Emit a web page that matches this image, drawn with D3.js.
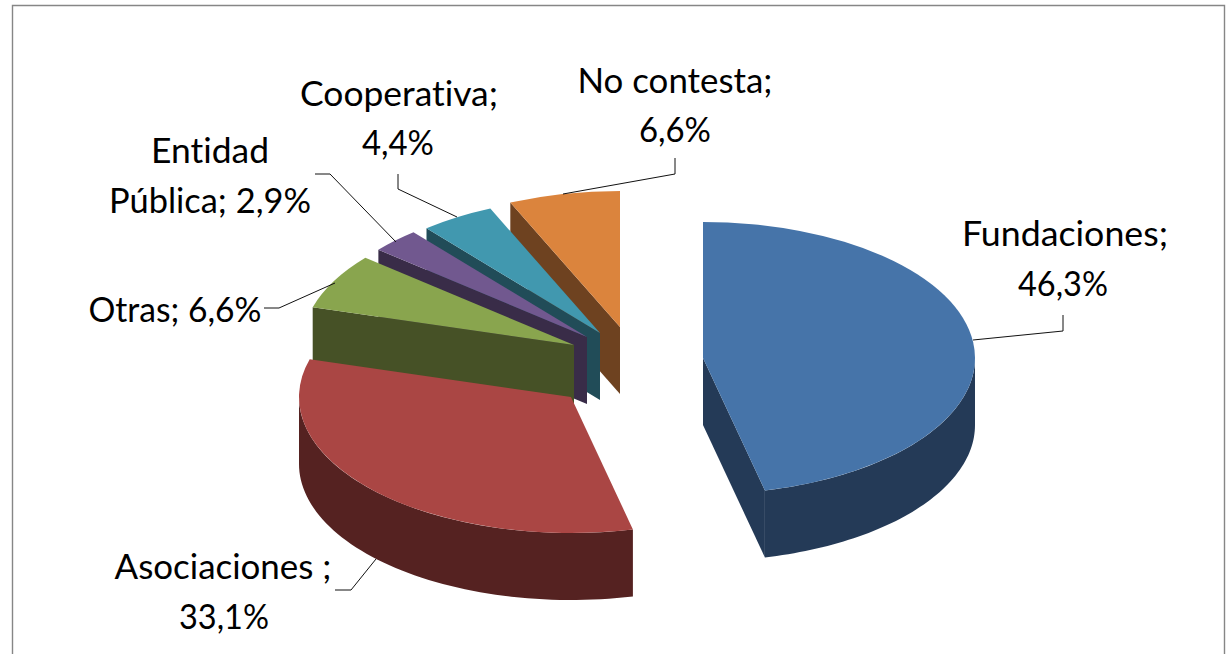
<!DOCTYPE html>
<html><head><meta charset="utf-8">
<script src="https://cdn.jsdelivr.net/npm/d3@7/dist/d3.min.js"></script>
<style>html,body{margin:0;padding:0;background:#fff;overflow:hidden}svg{display:block}
text{font-family:Lato,"Open Sans",sans-serif;font-size:34px;fill:#000;text-anchor:middle;font-variant-ligatures:none;font-feature-settings:"liga" 0}</style>
</head><body><svg id="c" width="1227" height="654"></svg>
<script>
// data
const categories = ["Fundaciones","Asociaciones","Otras","Entidad Pública","Cooperativa","No contesta"];
const values = [46.3,33.1,6.6,2.9,4.4,6.6];
const labelLines = [["Fundaciones;","46,3%"],["Asociaciones ;","33,1%"],["Otras; 6,6%"],["Entidad","Pública; 2,9%"],["Cooperativa;","4,4%"],["No contesta;","6,6%"]];
const topColors = ["#4674A9","#AA4644","#89A54E","#71588F","#4198AF","#DB843D"];
const sideColors = ["#243A57","#552221","#465126","#392C48","#214C58","#6E4220"];

// layout
const W=1227,H=654,center=[627,363],radius=272,tilt=0.5,depth=67;
const pulls=[[76,-5],[-56,34],[-53,-18],[-40,-26],[-27,-30],[-7,-36]];
const labelPos=[[[1065,246],[1063,296]],[[223,579],[224,629]],[[175,322]],[[210,163],[210,213]],[[399,106],[398,155]],[[675,93],[675,142]]];
const labelWidths=[[206,90],[217,90],[173],[118,202],[198,72],[195,72]];
const leaderLines=[[[973,340],[1063,331],[1063,315]],[[376,559],[351,590],[335,590]],[[335,283],[279,308],[264,308]],[[396,242],[330,174],[315,174]],[[457,217],[398,189],[398,174]],[[563,194],[675,174],[675,158]]];
const drawOrder=[5,4,3,2,1,0];

const svg=d3.select("#c");
svg.append("rect").attr("width",W).attr("height",H).attr("fill","#fff");
svg.append("path").attr("d",`M12.5,${H+2}V5.5H1224.5V${H+2}`).attr("fill","none").attr("stroke","#868686").attr("stroke-width",1.4);

const arcs=d3.pie().sort(null).startAngle(0).endAngle(2*Math.PI)(values);
const arcGen=d3.arc().innerRadius(0).outerRadius(radius);
const xOf=a=>radius*Math.sin(a), yOf=a=>-radius*tilt*Math.cos(a);
const line=d3.line();

drawOrder.forEach(i=>{
  const s=arcs[i],ax=center[0]+pulls[i][0],ay=center[1]+pulls[i][1];
  const g=svg.append("g").attr("transform",`translate(${ax},${ay})`);
  const a0=s.startAngle,a1=s.endAngle;
  const cut=a=>line([[0,0],[xOf(a),yOf(a)],[xOf(a),yOf(a)+depth],[0,depth]])+"Z";
  if(a0>Math.PI) g.append("path").attr("d",cut(a0)).attr("fill",sideColors[i]);
  if(a1<Math.PI) g.append("path").attr("d",cut(a1)).attr("fill",sideColors[i]);
  const lo=Math.max(a0,Math.PI/2),hi=Math.min(a1,3*Math.PI/2);
  if(lo<hi){
    const ang=d3.range(0,61).map(k=>lo+(hi-lo)*k/60);
    const pts=ang.map(a=>[xOf(a),yOf(a)]).concat(ang.slice().reverse().map(a=>[xOf(a),yOf(a)+depth]));
    g.append("path").attr("d",line(pts)+"Z").attr("fill",sideColors[i]);
  }
  g.append("path").attr("d",arcGen(s)).attr("transform",`scale(1,${tilt})`).attr("fill",topColors[i]);
});

leaderLines.forEach(l=>svg.append("path").attr("d",line(l)).attr("fill","none").attr("stroke","#111").attr("stroke-width",1));

labelLines.forEach((lines,i)=>lines.forEach((t,j)=>{
  svg.append("text").attr("x",labelPos[i][j][0]).attr("y",labelPos[i][j][1])
    .attr("textLength",labelWidths[i][j]).attr("lengthAdjust","spacingAndGlyphs").text(t);
}));
</script></body></html>
